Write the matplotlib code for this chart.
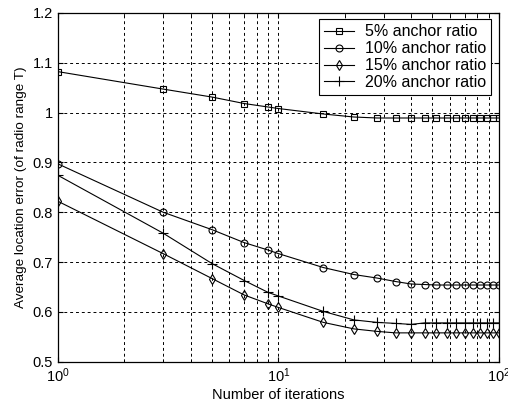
import matplotlib
matplotlib.use("Agg")
import matplotlib.pyplot as plt
from matplotlib.ticker import FixedLocator, NullFormatter

plt.rcParams["font.family"] = ["Liberation Sans", "DejaVu Sans"]

iteraciones = [1, 3, 5, 7, 9, 10, 16, 22, 28, 34, 40, 46, 52, 58, 64, 70, 76, 82, 88, 94, 100]

error_5 = [1.082, 1.047, 1.031, 1.018, 1.011, 1.008, 0.997, 0.991, 0.989, 0.989, 0.989,
           0.989, 0.989, 0.989, 0.989, 0.989, 0.989, 0.989, 0.989, 0.989, 0.989]
error_10 = [0.897, 0.800, 0.765, 0.739, 0.724, 0.717, 0.689, 0.675, 0.668, 0.661, 0.656,
            0.655, 0.654, 0.654, 0.654, 0.654, 0.654, 0.654, 0.654, 0.654, 0.654]
error_15 = [0.822, 0.717, 0.667, 0.634, 0.616, 0.609, 0.579, 0.566, 0.561, 0.558, 0.558,
            0.558, 0.558, 0.558, 0.558, 0.558, 0.558, 0.558, 0.558, 0.558, 0.558]
error_20 = [0.874, 0.758, 0.697, 0.663, 0.639, 0.632, 0.601, 0.584, 0.579, 0.577, 0.575,
            0.578, 0.578, 0.578, 0.578, 0.578, 0.578, 0.578, 0.578, 0.578, 0.578]

etiquetas = ["5% anchor ratio", "10% anchor ratio", "15% anchor ratio", "20% anchor ratio"]
marcadores = ["s", "o", "d", "+"]

y_ticks = [0.5, 0.6, 0.7, 0.8, 0.9, 1.0, 1.1, 1.2]
y_labels = ["0.5", "0.6", "0.7", "0.8", "0.9", "1", "1.1", "1.2"]

fig = plt.figure(figsize=(5.08, 4.13), dpi=100)
ax = fig.add_axes([0.114, 0.124, 0.868, 0.845])

tamanos = {"s": 4.5, "o": 5, "d": 5.5, "+": 7}
for serie, marca, etiqueta in zip([error_5, error_10, error_15, error_20], marcadores, etiquetas):
    ax.plot(iteraciones, serie, color="black", linewidth=0.8, marker=marca,
            markersize=tamanos[marca], markerfacecolor="none", markeredgecolor="black",
            markeredgewidth=0.8, label=etiqueta)

ax.set_xscale("log")
ax.set_xlim(1, 100)
ax.set_ylim(0.5, 1.2)
ax.set_yticks(y_ticks)
ax.set_yticklabels(y_labels)
ax.xaxis.set_minor_locator(FixedLocator([k * 10 ** e for e in (0, 1) for k in range(2, 10)]))
ax.xaxis.set_minor_formatter(NullFormatter())

ax.grid(True, which="major", linestyle=(0, (3, 3)), color="black", linewidth=0.7)
ax.grid(True, which="minor", axis="x", linestyle=(0, (3, 3)), color="black", linewidth=0.7)
ax.tick_params(which="both", direction="in", top=True, right=True, labelsize=10.5)
ax.tick_params(which="minor", length=2)
for lado in ax.spines.values():
    lado.set_linewidth(0.9)

ax.set_xlabel("Number of iterations", fontsize=10.5, labelpad=2)
ax.set_ylabel("Average location error (of radio range T)", fontsize=9.7)

leyenda = ax.legend(loc="upper right", bbox_to_anchor=(0.99, 0.99), fontsize=11.5,
                    frameon=True, fancybox=False, edgecolor="black", framealpha=1,
                    handlelength=1.9, borderpad=0.3, labelspacing=0.12, handletextpad=0.7,
                    borderaxespad=0.2)
leyenda.get_frame().set_linewidth(0.8)

fig.savefig("out.png", dpi=100)
plt.close()
